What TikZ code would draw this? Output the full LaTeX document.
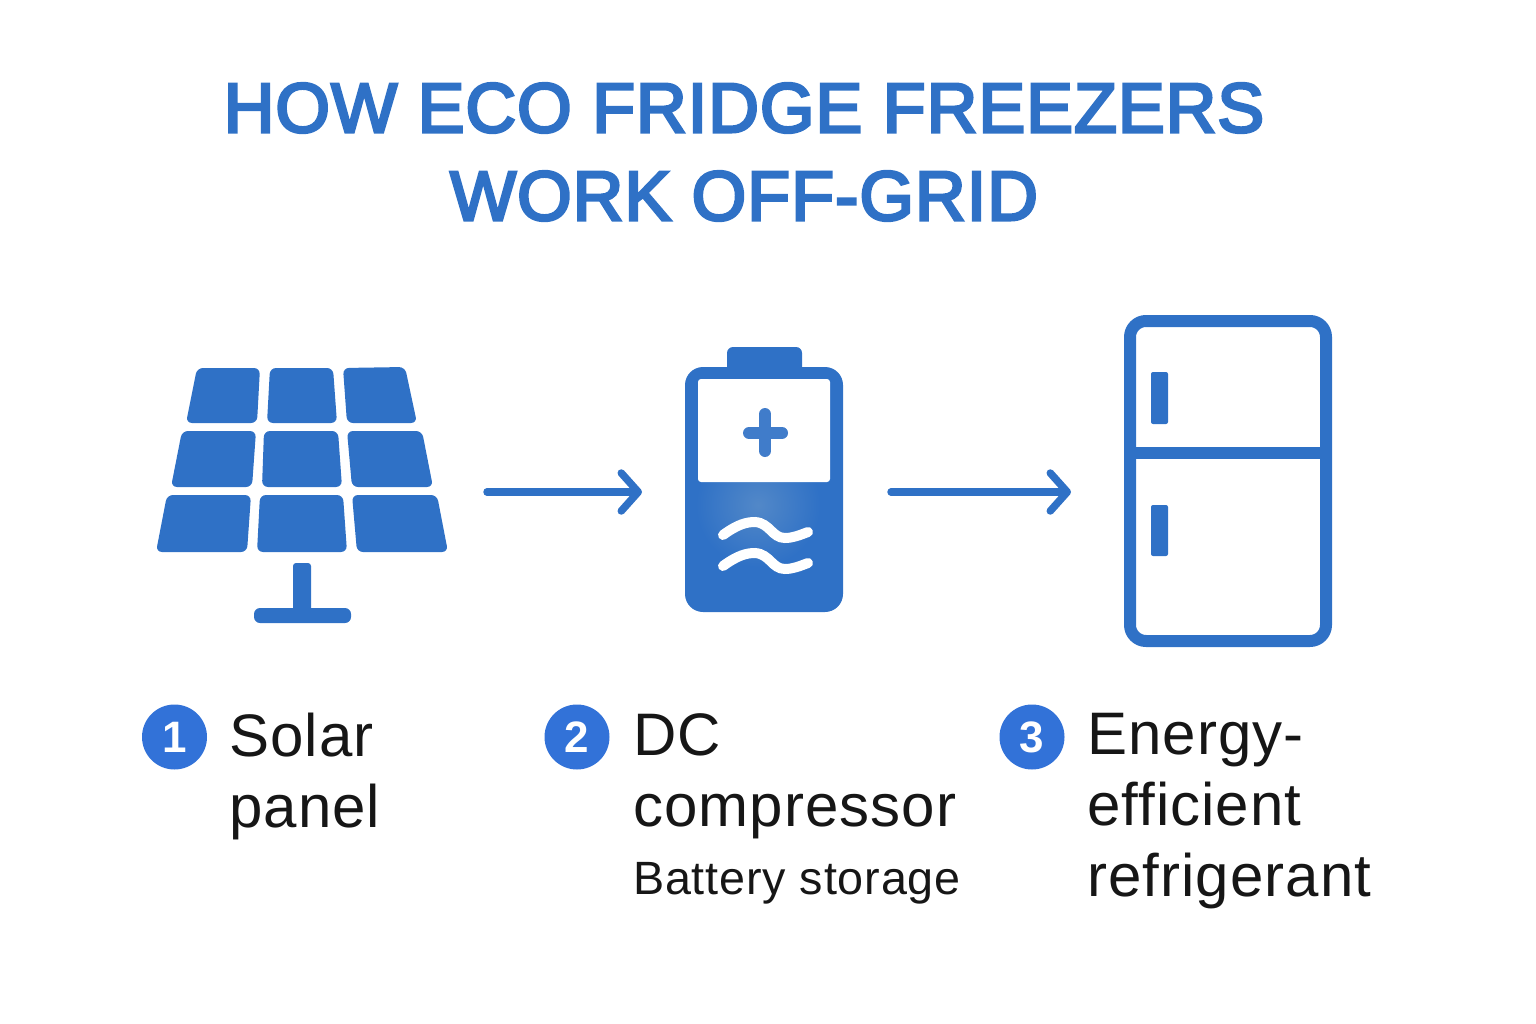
\documentclass[tikz,border=0pt]{standalone}
\usepackage{fontspec}
\setmainfont[LetterSpace=1.8]{Liberation Sans}
\newfontfamily\titlefont[FakeBold=4,LetterSpace=1.6]{Liberation Sans}
\usetikzlibrary{arrows.meta,positioning}
\definecolor{ecoblue}{HTML}{2F71C6}
\definecolor{glowblue}{HTML}{5288C8}
\definecolor{badgeblue}{HTML}{3272D8}
\definecolor{inktext}{HTML}{161616}
\tikzset{
  panelcell/.style={fill=ecoblue,rounded corners=6pt},
  iconline/.style={draw=ecoblue,line width=12pt,line join=round},
  flowarrow/.style={draw=ecoblue,line width=7.5pt,line cap=round,-{Straight Barb[round,length=17pt,width=38pt]}},
  badge/.style={circle,fill=badgeblue,text=white,minimum size=65pt,inner sep=0pt,font=\fontsize{44}{44}\selectfont\bfseries},
  steplabel/.style={anchor=north west,align=left,inner sep=0pt,text=inktext,font=\fontsize{60}{71}\selectfont},
  titletext/.style={align=center,text=ecoblue,inner sep=0pt,font=\fontsize{70}{88}\selectfont\titlefont}
}
\begin{document}
\begin{tikzpicture}[x=1pt,y=-1pt]
  \useasboundingbox (0,0) rectangle (1536,1024);
  \node[titletext] (title) at (744,152) {HOW ECO FRIDGE FREEZERS\\WORK OFF-GRID};
  % solar panel
  \foreach \a/\b/\c/\d/\e/\f/\g/\h in {
    197/368/260/368/257/423/186/423, 270/368/333/368/337/423/267/423, 343/368/405/367/417/423/347/423,
    182/431/256/431/252/487/171/487, 264/431/338/431/342/487/262/487, 347/431/422/431/433/487/352/487,
    167/495/251/495/247/552/156/552, 260/495/343/495/347/552/257/552, 352/495/437/495/448/552/357/552}
    \fill[panelcell] (\a,\b) -- (\c,\d) -- (\e,\f) -- (\g,\h) -- cycle;
  \fill[ecoblue,rounded corners=3pt] (293,563) rectangle (311,612);
  \fill[ecoblue,rounded corners=6pt] (254,608) rectangle (351,623);
  \coordinate (panelout) at (487,492);
  % battery
  \fill[ecoblue,rounded corners=6pt] (727,347) rectangle (802,375);
  \fill[ecoblue,rounded corners=18pt] (685,367) rectangle (843,612);
  \begin{scope}
    \clip (686,482) rectangle (842,600);
    \shade[inner color=glowblue,outer color=ecoblue] (758,505) circle (62);
  \end{scope}
  \fill[white,rounded corners=3pt] (698,482) -- (698,379) -- (830,379) -- (830,482) -- cycle;
  \draw[line width=12pt,ecoblue!92!white,line cap=round] (765,414) -- (765,451) (749,433) -- (782,433);
  \foreach \y in {0,31}
    \draw[white,line width=10pt,line cap=round,yshift=-\y pt] (723,535) .. controls (738,524) and (747,522) .. (755,522) .. controls (770,523) and (772,538) .. (785,538) .. controls (793,538) and (800,535) .. (808,532);
  \coordinate (battin) at (642,492);
  \coordinate (battout) at (891,492);
  % fridge
  \draw[iconline,rounded corners=16pt] (1130,321) rectangle (1326,641);
  \draw[iconline] (1130,453) -- (1326,453);
  \fill[ecoblue,rounded corners=2pt] (1151,372) rectangle (1168,424);
  \fill[ecoblue,rounded corners=2pt] (1151,505) rectangle (1168,556);
  \coordinate (fridgein) at (1071,492);
  % arrows
  \draw[flowarrow] (panelout) -- (battin);
  \draw[flowarrow] (battout) -- (fridgein);
  % labels
  \node[badge] (one) at (174.5,737) {1};
  \node[badge] (two) at (577,737) {2};
  \node[badge] (three) at (1032,737) {3};
  \node[steplabel] (solar) at (229,713) {Solar\\panel};
  \node[steplabel] (comp) at (633,713) {DC\\compressor};
  \node[steplabel,font=\fontsize{46.7}{50}\selectfont] (store) at (633,862) {Battery storage};
  \node[steplabel] (energy) at (1087,713) {Energy-\\efficient\\refrigerant};
\end{tikzpicture}
\end{document}
